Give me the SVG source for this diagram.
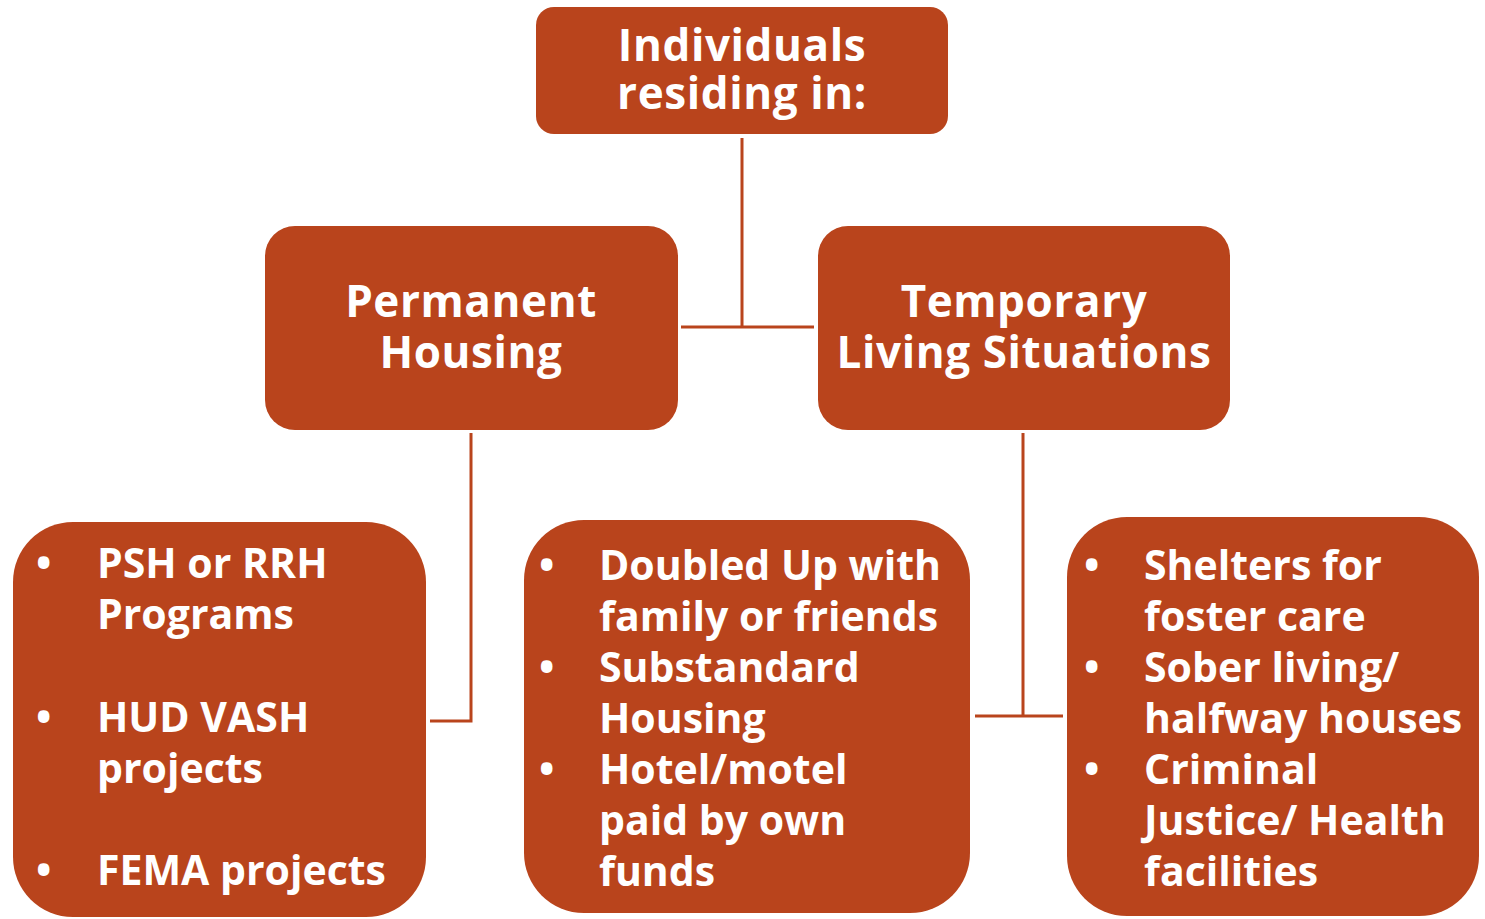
<svg xmlns="http://www.w3.org/2000/svg" width="1485" height="919" viewBox="0 0 1485 919">
<style>
.box{fill:#B9441C}
.t{font-family:"Open Sans","Liberation Sans",sans-serif;font-weight:700;fill:#fff}
.h{font-size:44px;letter-spacing:0.6px;text-anchor:middle}
.b{font-size:41px}
.c{stroke:#B9441C;stroke-width:3;fill:none}
</style>
<rect width="1485" height="919" fill="#fff"/>
<g id="connectors">
<path class="c" d="M742,138 V327 M681,327 H814"/>
<path class="c" d="M471,433 V721 H430"/>
<path class="c" d="M1023,433 V716 M975,716 H1063"/>
</g>
<g id="top">
<rect class="box" x="536" y="7" width="412" height="127" rx="18"/>
<text class="t h" x="742" y="61">Individuals</text>
<text class="t h" x="742" y="109">residing in:</text>
</g>
<g id="permanent">
<rect class="box" x="265" y="226" width="413" height="204" rx="30"/>
<text class="t h" x="471" y="317">Permanent</text>
<text class="t h" x="471" y="368">Housing</text>
</g>
<g id="temporary">
<rect class="box" x="818" y="226" width="412" height="204" rx="30"/>
<text class="t h" x="1024" y="317">Temporary</text>
<text class="t h" x="1024" y="368">Living Situations</text>
</g>
<g id="left">
<rect class="box" x="13" y="522" width="413" height="395" rx="60"/>
<g class="t b">
<text x="36" y="578">•</text><text x="97" y="578">PSH or RRH</text>
<text x="97" y="629">Programs</text>
<text x="36" y="732">•</text><text x="97" y="732">HUD VASH</text>
<text x="97" y="783">projects</text>
<text x="36" y="885">•</text><text x="97" y="885">FEMA projects</text>
</g>
</g>
<g id="middle">
<rect class="box" x="524" y="520" width="446" height="393" rx="60"/>
<g class="t b">
<text x="539" y="580">•</text><text x="599" y="580">Doubled Up with</text>
<text x="599" y="631">family or friends</text>
<text x="539" y="682">•</text><text x="599" y="682">Substandard</text>
<text x="599" y="733">Housing</text>
<text x="539" y="784">•</text><text x="599" y="784">Hotel/motel</text>
<text x="599" y="835">paid by own</text>
<text x="599" y="886">funds</text>
</g>
</g>
<g id="right">
<rect class="box" x="1067" y="517" width="412" height="399" rx="60"/>
<g class="t b">
<text x="1084" y="580">•</text><text x="1144" y="580">Shelters for</text>
<text x="1144" y="631">foster care</text>
<text x="1084" y="682">•</text><text x="1144" y="682">Sober living/</text>
<text x="1144" y="733">halfway houses</text>
<text x="1084" y="784">•</text><text x="1144" y="784">Criminal</text>
<text x="1144" y="835">Justice/ Health</text>
<text x="1144" y="886">facilities</text>
</g>
</g>
</svg>
